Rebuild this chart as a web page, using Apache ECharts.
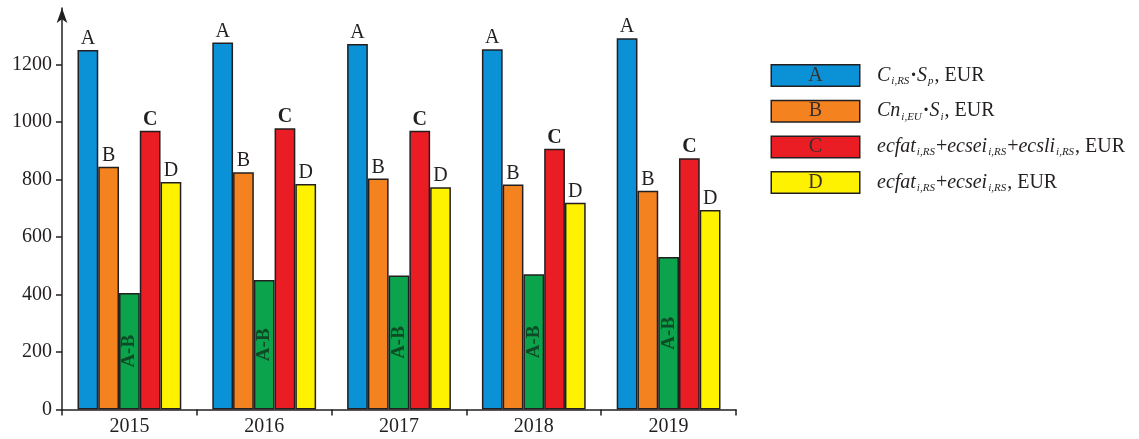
<!DOCTYPE html>
<html>
<head>
<meta charset="utf-8">
<script src="https://cdn.jsdelivr.net/npm/echarts@6/dist/echarts.min.js"></script>
<style>
  html, body { margin: 0; padding: 0; background: #fff; }
  #chart { width: 1139px; height: 439px; }
</style>
</head>
<body>
<div id="chart"></div>
<script>
// Yearly cost comparison, EUR
const years = ['2015', '2016', '2017', '2018', '2019'];
const valuesA = [1250, 1276, 1271, 1253, 1291];
const valuesB = [844, 825, 803, 782, 761];
const valuesAB = [405, 450, 466, 470, 530];
const valuesC = [969, 978, 969, 907, 874];
const valuesD = [791, 784, 773, 719, 694];
const yTicks = [0, 200, 400, 600, 800, 1000, 1200];

const seriesNames = ['A', 'B', 'A-B', 'C', 'D'];
const seriesColors = ['#0a91d6', '#f4821f', '#0ba34b', '#ea1d25', '#fff200'];
const legendNames = ['A', 'B', 'C', 'D'];
// legend formulas as [style, text] pieces
const legendFormulas = {
  A: [['it', 'C'], ['sub', 'i,RS'], ['dot', '·'], ['it', 'S'], ['sub', 'p'], ['rm', ', EUR']],
  B: [['it', 'Cn'], ['sub', 'i,EU'], ['dot', '·'], ['it', 'S'], ['sub', 'i'], ['rm', ', EUR']],
  C: [['it', 'ecfat'], ['sub', 'i,RS'], ['rm', '+'], ['it', 'ecsei'], ['sub', 'i,RS'], ['rm', '+'], ['it', 'ecsli'], ['sub', 'i,RS'], ['rm', ', EUR']],
  D: [['it', 'ecfat'], ['sub', 'i,RS'], ['rm', '+'], ['it', 'ecsei'], ['sub', 'i,RS'], ['rm', ', EUR']]
};

const FONT = '"Liberation Serif", "Times New Roman", serif';
const INK = '#231f20';

const chart = echarts.init(document.getElementById('chart'), null, { renderer: 'canvas' });

const dataBySeries = [valuesA, valuesB, valuesAB, valuesC, valuesD];

const series = seriesNames.map((name, i) => {
  const isDiff = name === 'A-B';
  return {
    name: name,
    type: 'bar',
    data: dataBySeries[i],
    barGap: '0%',
    barCategoryGap: '23%',
    itemStyle: { color: seriesColors[i], borderColor: INK, borderWidth: 1.5 },
    label: isDiff ? {
      show: true,
      position: 'inside',
      rotate: 90,
      formatter: 'A-B',
      fontFamily: FONT,
      fontWeight: 'bold',
      fontSize: 19,
      color: '#0d4a25'
    } : {
      show: true,
      position: 'top',
      distance: 1,
      formatter: name,
      fontFamily: FONT,
      fontWeight: name === 'C' ? 'bold' : 'normal',
      fontSize: 20,
      color: INK
    }
  };
});

const rich = {
  gap: { width: 18 },
  it: { fontFamily: FONT, fontStyle: 'italic', fontSize: 20, color: INK, lineHeight: 22 },
  rm: { fontFamily: FONT, fontSize: 20, color: INK, lineHeight: 22 },
  dot: { fontFamily: FONT, fontWeight: 'bold', fontSize: 20, color: INK, lineHeight: 22 },
  sub: { fontFamily: FONT, fontStyle: 'italic', fontSize: 11, color: INK, lineHeight: 11, verticalAlign: 'bottom', padding: [0, 1, 0, 1] }
};
legendNames.forEach((n) => {
  const idx = seriesNames.indexOf(n);
  rich['box' + n] = {
    width: 87, height: 20, align: 'center', lineHeight: 20,
    backgroundColor: seriesColors[idx], borderColor: INK, borderWidth: 1.5,
    fontFamily: FONT, fontSize: 20, color: '#3a2f2f'
  };
});

const option = {
  backgroundColor: '#ffffff',
  animation: false,
  grid: { left: 62, right: 403, top: 8, bottom: 29.5, containLabel: false },
  legend: {
    data: legendNames,
    orient: 'vertical',
    left: 762,
    top: 59,
    icon: 'none',
    itemWidth: 0,
    itemHeight: 22,
    itemGap: 12.7,
    selectedMode: false,
    formatter: (name) => '{box' + name + '|' + name + '}{gap|}' +
      legendFormulas[name].map(([s, t]) => '{' + s + '|' + t + '}').join(''),
    textStyle: { rich: rich }
  },
  xAxis: {
    type: 'category',
    data: years,
    axisLine: { lineStyle: { color: INK, width: 1.5 } },
    axisTick: { show: true, length: 6, lineStyle: { color: INK, width: 1.5 } },
    axisLabel: { fontFamily: FONT, fontSize: 20, color: INK, margin: 7 },
    splitLine: { show: false }
  },
  yAxis: {
    type: 'value',
    min: 0,
    max: 1396,
    interval: 200,
    axisLine: {
      show: true,
      lineStyle: { color: INK, width: 1.5 },
      symbol: ['none', 'arrow'],
      symbolSize: [8, 15],
      symbolOffset: [0, 0]
    },
    axisTick: { show: true, length: 6, lineStyle: { color: INK, width: 1.5 }, customValues: yTicks },
    axisLabel: {
      fontFamily: FONT, fontSize: 20, color: INK, margin: 10, customValues: yTicks,
      formatter: (v) => String(v)
    },
    splitLine: { show: false }
  },
  series: series
};

chart.setOption(option);
</script>
</body>
</html>
